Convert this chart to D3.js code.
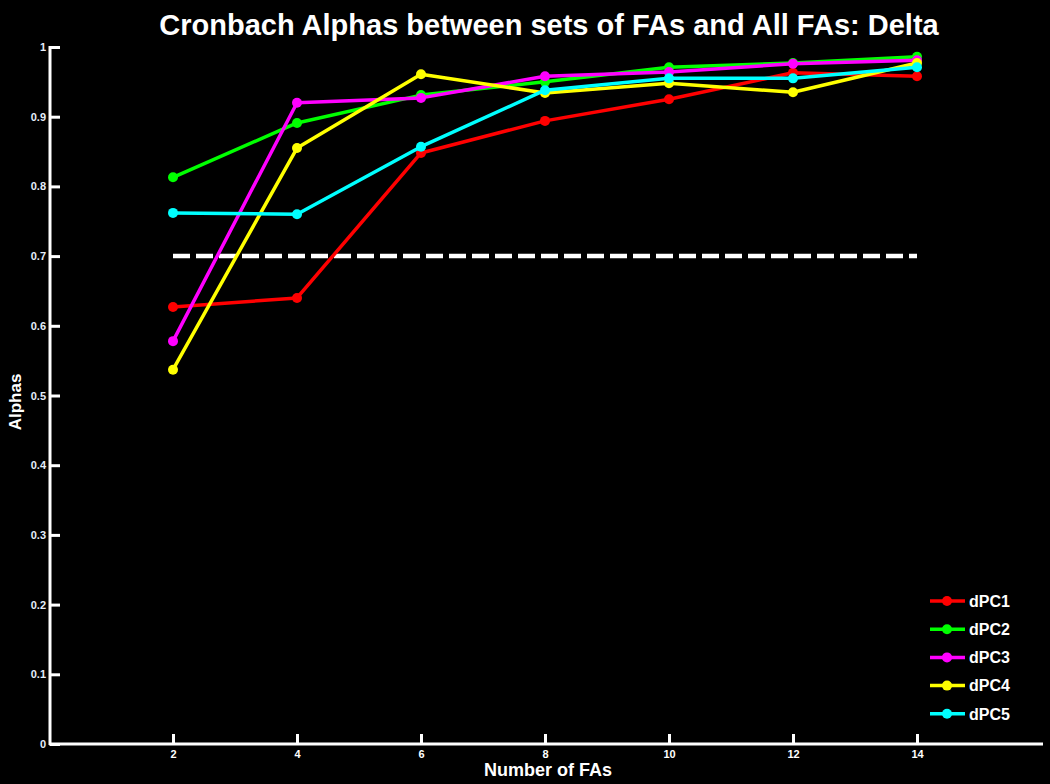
<!DOCTYPE html>
<html>
<head>
<meta charset="utf-8">
<script src="https://cdn.jsdelivr.net/npm/d3@7"></script>
<style>
  body { margin: 0; background: #000; }
  svg { display: block; font-family: "Liberation Sans", Arial, sans-serif; }
</style>
</head>
<body>
<script>
// number of FAs on the x axis
const nFAs = [2, 4, 6, 8, 10, 12, 14];

const seriesNames = ["dPC1", "dPC2", "dPC3", "dPC4", "dPC5"];
const seriesColors = ["#ff0000", "#00ff00", "#ff00ff", "#ffff00", "#00ffff"];

// alphas
const dPC1 = [0.627, 0.640, 0.848, 0.894, 0.925, 0.963, 0.958];
const dPC2 = [0.813, 0.891, 0.931, 0.950, 0.971, 0.977, 0.986];
const dPC3 = [0.578, 0.920, 0.927, 0.958, 0.964, 0.976, 0.981];
const dPC4 = [0.537, 0.855, 0.961, 0.934, 0.948, 0.935, 0.977];
const dPC5 = [0.762, 0.760, 0.857, 0.938, 0.955, 0.955, 0.971];

const threshold = 0.7;
const yTicks = [0, 0.1, 0.2, 0.3, 0.4, 0.5, 0.6, 0.7, 0.8, 0.9, 1];

const W = 1050, H = 784;
const margin = {left: 50, right: 9, top: 47, bottom: 40};

const svg = d3.select("body").append("svg")
  .attr("width", W).attr("height", H)
  .style("background", "#000");

const x = d3.scaleLinear().domain([0, 16]).range([49, 1041]);
const y = d3.scaleLinear().domain([0, 1]).range([744, 47]);

// title
svg.append("text")
  .attr("x", 549).attr("y", 35)
  .attr("text-anchor", "middle")
  .attr("fill", "#fff")
  .attr("font-size", "29px").attr("font-weight", "bold")
  .text("Cronbach Alphas between sets of FAs and All FAs: Delta");

// y axis
const yAxis = svg.append("g")
  .attr("transform", `translate(${margin.left},0)`)
  .call(d3.axisRight(y).tickValues(yTicks).tickSize(10).tickFormat(d3.format("~g")));
yAxis.select(".domain").remove();
yAxis.selectAll(".tick line").attr("stroke", "#fff").attr("stroke-width", 3);
yAxis.selectAll(".tick text")
  .attr("x", -4).attr("text-anchor", "end")
  .attr("fill", "#e6eefa")
  .attr("font-size", "11px").attr("font-weight", "bold");
svg.append("line")
  .attr("x1", margin.left).attr("x2", margin.left)
  .attr("y1", y(1) - 1).attr("y2", y(0) + 1)
  .attr("stroke", "#fff").attr("stroke-width", 3);

// x axis
const xAxis = svg.append("g")
  .attr("transform", `translate(0,${y(0)})`)
  .call(d3.axisTop(x).tickValues(nFAs).tickSize(10));
xAxis.select(".domain").remove();
xAxis.selectAll(".tick line").attr("stroke", "#fff").attr("stroke-width", 3);
xAxis.selectAll(".tick text")
  .attr("y", 14).attr("dy", 0)
  .attr("fill", "#fff")
  .attr("font-size", "11px").attr("font-weight", "bold");
svg.append("line")
  .attr("x1", margin.left - 1).attr("x2", 1043)
  .attr("y1", y(0)).attr("y2", y(0))
  .attr("stroke", "#fff").attr("stroke-width", 3);

// axis labels
svg.append("text")
  .attr("x", 548).attr("y", 776)
  .attr("text-anchor", "middle").attr("fill", "#fff")
  .attr("font-size", "18px").attr("font-weight", "bold")
  .text("Number of FAs");
svg.append("text")
  .attr("transform", `translate(21,402) rotate(-90)`)
  .attr("text-anchor", "middle").attr("fill", "#fff")
  .attr("font-size", "17px").attr("font-weight", "bold")
  .text("Alphas");

// 0.7 reference line
svg.append("line")
  .attr("x1", x(2)).attr("x2", x(14))
  .attr("y1", y(threshold)).attr("y2", y(threshold))
  .attr("stroke", "#fff").attr("stroke-width", 4.5)
  .attr("stroke-dasharray", "17,6");

// series
const seriesValues = [dPC1, dPC2, dPC3, dPC4, dPC5];
const series = seriesNames.map((name, i) => ({
  name,
  color: seriesColors[i],
  points: nFAs.map((n, j) => ({n, v: seriesValues[i][j]}))
}));

const line = d3.line().x(d => x(d.n)).y(d => y(d.v));

const g = svg.selectAll(".series").data(series).join("g").attr("class", "series");
g.append("path")
  .attr("d", d => line(d.points))
  .attr("fill", "none")
  .attr("stroke", d => d.color)
  .attr("stroke-width", 3.5)
  .attr("stroke-linejoin", "round");
g.selectAll("circle").data(d => d.points.map(p => ({...p, color: d.color})))
  .join("circle")
  .attr("cx", d => x(d.n)).attr("cy", d => y(d.v))
  .attr("r", 5)
  .attr("fill", d => d.color);

// legend
const legend = svg.append("g");
const item = legend.selectAll("g").data(series).join("g")
  .attr("transform", (d, i) => `translate(0,${601 + i * 28.2})`);
item.append("line")
  .attr("x1", 930).attr("x2", 965)
  .attr("stroke", d => d.color).attr("stroke-width", 3.5);
item.append("circle")
  .attr("cx", 947).attr("r", 5)
  .attr("fill", d => d.color);
item.append("text")
  .attr("x", 969).attr("dy", "0.36em")
  .attr("fill", "#fff")
  .attr("font-size", "16px").attr("font-weight", "bold")
  .text(d => d.name);
</script>
</body>
</html>
